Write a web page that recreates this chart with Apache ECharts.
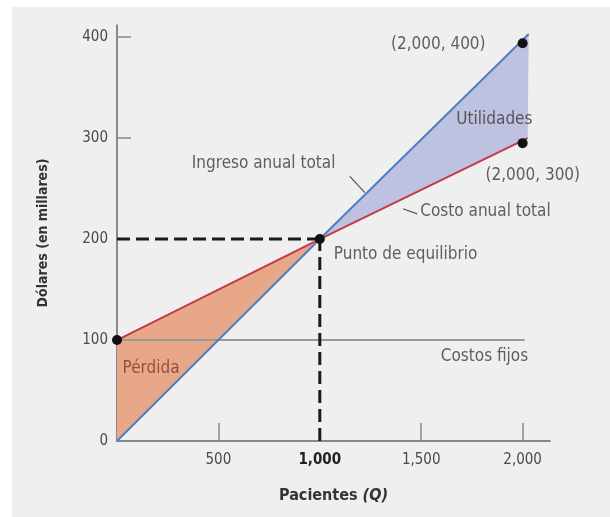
<!DOCTYPE html>
<html>
<head>
<meta charset="utf-8">
<script src="https://cdn.jsdelivr.net/npm/echarts@6/dist/echarts.min.js"></script>
<style>
html,body{margin:0;padding:0;background:#ffffff;}
#chart{width:610px;height:517px;}
</style>
</head>
<body>
<div id="chart"></div>
<script>
// ---- data ----
const ingresoTotal = [[0, 0], [1000, 200], [2030, 403]];
const costoTotal = [[0, 100], [1000, 200], [2025, 300]];
const costosFijos = [[0, 100], [2010, 100]];
const perdidaArea = [[0, 0], [0, 100], [1000, 200]];
const utilidadesArea = [[1000, 200], [2030, 403], [2025, 300]];
const equilibrioH = [[0, 200], [1000, 200]];
const equilibrioV = [[1000, 0], [1000, 200]];
const puntos = [[0, 100], [1000, 200], [2000, 394], [2000, 295]];
const yTicks = [0, 100, 200, 300, 400];
const xTicks = [500, 1000, 1500, 2000];
const etiquetas = [
  { text: '(2,000, 400)', pos: [1584, 393], align: 'center' },
  { text: 'Utilidades', pos: [1861, 318], align: 'center' },
  { text: '(2,000, 300)', pos: [2050, 263], align: 'center' },
  { text: 'Ingreso anual total', pos: [723, 275], align: 'center' },
  { text: 'Costo anual total', pos: [1817, 227], align: 'center' },
  { text: 'Punto de equilibrio', pos: [1069, 185], align: 'left' },
  { text: 'Costos fijos', pos: [1812, 84], align: 'center' },
  { text: 'Pérdida', pos: [168, 72], align: 'center', color: '#7b3b2b' }
];
const guiaIngreso = [[1148, 262], [1222, 246]];
const guiaCosto = [[1410, 230], [1480, 225]];

const FONT = '"Liberation Sans Narrow","DejaVu Sans Condensed","Liberation Sans",sans-serif';
const fmt = v => v.toLocaleString('en-US');

const chart = echarts.init(document.getElementById('chart'), null, { renderer: 'canvas' });

function polySeries(poly, color) {
  return {
    type: 'custom',
    silent: true,
    z: 1,
    data: [0],
    renderItem: function (params, api) {
      const pts = poly.map(p => api.coord(p));
      return { type: 'polygon', shape: { points: pts }, style: { fill: color } };
    }
  };
}

function lineSeries(data, color, width, type, z) {
  return {
    type: 'line', data: data, symbol: 'none', silent: true, z: z || 3,
    lineStyle: { color: color, width: width, type: type || 'solid' },
    animation: false
  };
}

chart.setOption({
  animation: false,
  graphic: [{
    type: 'rect', z: -10, silent: true,
    shape: { x: 12, y: 7, width: 598, height: 510 },
    style: { fill: '#efefef' }
  }],
  grid: { left: 117, top: 25, right: 60, bottom: 76, containLabel: false },
  xAxis: {
    type: 'value', min: 0, max: 2135, interval: 500,
    splitLine: { show: false },
    axisLine: { show: true, onZero: false, lineStyle: { color: '#666', width: 1.5 } },
    axisTick: { show: true, inside: true, length: 18, customValues: [500, 1500, 2000], lineStyle: { color: '#888', width: 1.5 } },
    axisLabel: {
      customValues: xTicks, margin: 12,
      formatter: v => v === 1000 ? '{b|' + fmt(v) + '}' : fmt(v),
      color: '#4a4a4a', fontSize: 15, fontFamily: FONT,
      rich: { b: { color: '#222', fontWeight: 'bold', fontSize: 15, fontFamily: FONT } }
    },
    name: 'Pacientes {i|(Q)}',
    nameLocation: 'middle', nameGap: 47,
    nameTextStyle: {
      color: '#333', fontSize: 16, fontWeight: 'bold', fontFamily: FONT,
      rich: { i: { color: '#333', fontSize: 16, fontWeight: 'bold', fontStyle: 'italic', fontFamily: FONT } }
    }
  },
  yAxis: {
    type: 'value', min: 0, max: 412, interval: 100,
    splitLine: { show: false },
    axisLine: { show: true, onZero: false, lineStyle: { color: '#666', width: 1.5 } },
    axisTick: { show: true, inside: true, length: 14, customValues: [300, 400], lineStyle: { color: '#888', width: 1.5 } },
    axisLabel: {
      customValues: yTicks, margin: 9,
      color: '#4a4a4a', fontSize: 15, fontFamily: FONT
    },
    name: 'Dólares (en millares)',
    nameLocation: 'middle', nameGap: 67, nameRotate: 90,
    nameTextStyle: { color: '#333', fontSize: 14, fontWeight: 'bold', fontFamily: FONT }
  },
  series: [
    polySeries(perdidaArea, '#e9a78a'),
    polySeries(utilidadesArea, '#bec1e0'),
    lineSeries(costosFijos, '#999999', 2, 'solid', 2),
    lineSeries(ingresoTotal, '#4f7fbf', 2),
    lineSeries(costoTotal, '#c23a48', 2),
    lineSeries(equilibrioH, '#1a1a1a', 3, [13, 6], 4),
    lineSeries(equilibrioV, '#1a1a1a', 3, [13, 6], 4),
    lineSeries(guiaIngreso, '#555', 1.2, 'solid', 4),
    lineSeries(guiaCosto, '#555', 1.2, 'solid', 4),
    {
      type: 'scatter', data: puntos, symbol: 'circle', symbolSize: 10, z: 6, silent: true,
      itemStyle: { color: '#111', opacity: 1 }
    },
    {
      type: 'scatter', z: 7, silent: true, symbolSize: 0,
      data: etiquetas.map(e => ({
        value: e.pos,
        label: {
          show: true, position: 'inside', formatter: e.text,
          align: e.align, verticalAlign: 'middle',
          color: e.color || '#3a3a3a', fontSize: 17, fontFamily: FONT
        }
      }))
    }
  ]
});
</script>
</body>
</html>
